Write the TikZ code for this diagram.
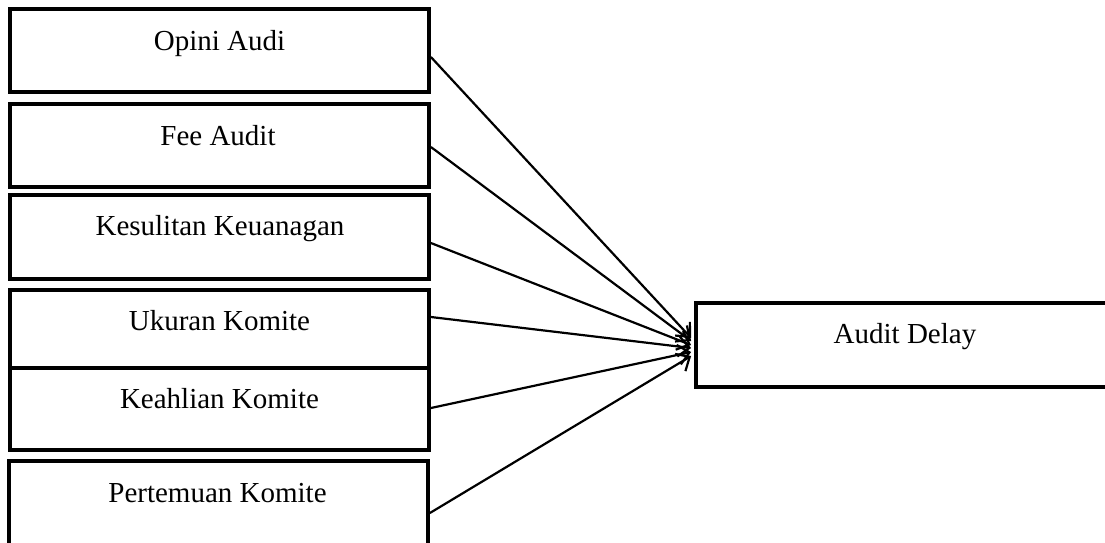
\documentclass[tikz,border=0pt]{standalone}
\usepackage{fontspec}
\setmainfont{Liberation Serif}
\usetikzlibrary{arrows.meta,calc}
\begin{document}
\begin{tikzpicture}[x=1pt,y=-1pt,
  box/.style={draw=black,line width=3.8pt,rectangle,inner sep=0pt},
  lbl/.style={anchor=base,inner sep=0pt,font=\fontsize{29}{34}\selectfont},
  arr/.style={line width=2.2pt,-{Straight Barb[length=11pt,width=20pt,line width=2.2pt]}}]
\useasboundingbox (0,0) rectangle (1105,542);
\clip (0,0) rectangle (1105,542);
\node[box,minimum width=419pt,minimum height=83pt] (b1) at (219.5,50.5) {};
\node[box,minimum width=419pt,minimum height=83pt] (b2) at (219.5,145.5) {};
\node[box,minimum width=419pt,minimum height=84pt] (b3) at (219.5,237) {};
\node[box,minimum width=419pt,minimum height=78pt] (b4) at (219.5,329) {};
\node[box,minimum width=419pt,minimum height=82pt] (b5) at (219.5,409) {};
\node[box,minimum width=419pt,minimum height=100pt] (b6) at (218.5,511) {};
\node[box,minimum width=420pt,minimum height=84pt] (ad) at (906,345) {};
\node[lbl] (t1) at (219.5,50) {Opini Audi};
\node[lbl] (t2) at (218,145) {Fee Audit};
\node[lbl] (t3) at (220,235) {Kesulitan Keuanagan};
\node[lbl] (t4) at (219.5,330) {Ukuran Komite};
\node[lbl] (t5) at (219.5,408) {Keahlian Komite};
\node[lbl] (t6) at (217.5,502) {Pertemuan Komite};
\node[lbl] (t7) at (905,343) {Audit Delay};
\coordinate (s1) at ($(b1.east)+(0,6.5)$);
\coordinate (s2) at ($(b2.east)+(0,1.5)$);
\coordinate (s3) at ($(b3.east)+(0,6)$);
\coordinate (s4) at ($(b4.east)+(0,-12)$);
\coordinate (s5) at ($(b5.east)+(0,-1)$);
\coordinate (s6) at ($(b6.east)+(0,2)$);
\draw[arr] (s1) -- ($(ad.west)+(-3,-7)$);
\draw[arr] (s2) -- ($(ad.west)+(-3,-4)$);
\draw[arr] (s3) -- ($(ad.west)+(-3,0)$);
\draw[arr] (s4) -- ($(ad.west)+(-3,3)$);
\draw[arr] (s5) -- ($(ad.west)+(-3,7)$);
\draw[arr] (s6) -- ($(ad.west)+(-3,11)$);
\end{tikzpicture}
\end{document}
